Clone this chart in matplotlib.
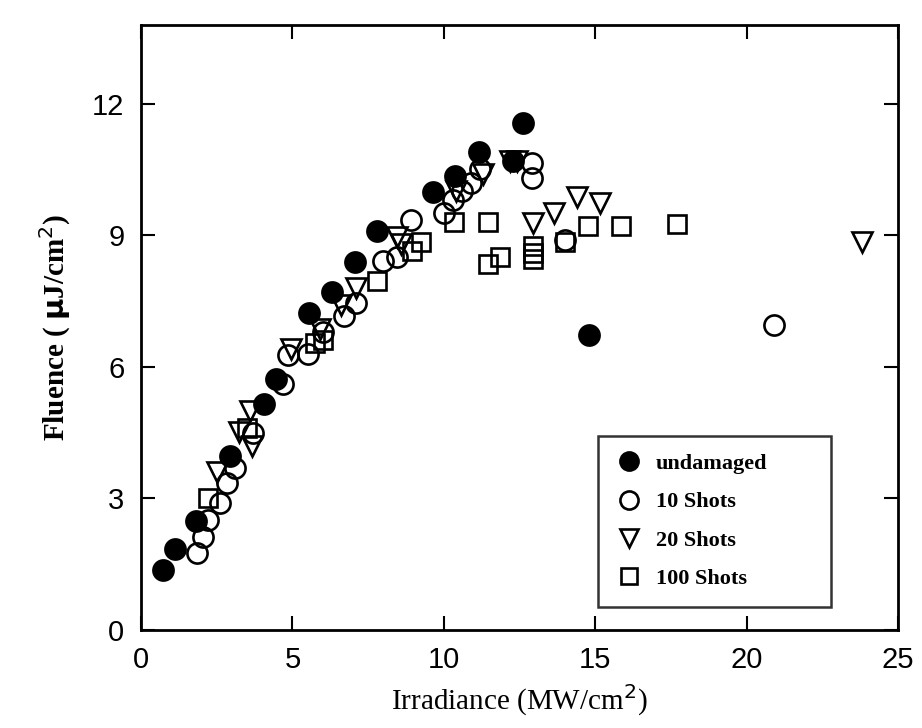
import matplotlib
matplotlib.use("Agg")
import matplotlib.pyplot as plt
from matplotlib import font_manager

# fluence vs irradiance, four damage classes
undamaged_x = [0.73, 1.12, 1.8, 2.95, 4.05, 4.45, 5.55, 6.3, 7.05, 7.8, 9.65, 10.38, 11.15, 12.3, 12.6, 14.8]
undamaged_y = [1.37, 1.85, 2.48, 3.96, 5.15, 5.72, 7.22, 7.7, 8.38, 9.1, 9.98, 10.36, 10.9, 10.7, 11.55, 6.72]

shots10_x = [1.85, 2.05, 2.2, 2.6, 2.84, 3.1, 3.7, 4.7, 4.85, 5.5, 6.0, 6.7, 7.1, 8.0, 8.45,
             8.9, 10.0, 10.3, 10.6, 10.9, 11.2, 12.9, 12.9, 14.0, 20.9]
shots10_y = [1.75, 2.12, 2.5, 2.9, 3.35, 3.7, 4.49, 5.6, 6.26, 6.3, 6.8, 7.15, 7.45, 8.4, 8.5,
             9.35, 9.5, 9.8, 10.0, 10.2, 10.5, 10.65, 10.3, 8.9, 6.95]

shots20_x = [2.5, 3.25, 3.65, 3.6, 4.95, 5.9, 6.6, 7.1, 8.45, 8.6, 10.4, 11.3, 12.2, 12.4,
             12.95, 13.65, 14.4, 15.15, 23.8]
shots20_y = [3.6, 4.5, 4.2, 5.0, 6.4, 6.85, 7.4, 7.8, 8.95, 8.8, 10.0, 10.4, 10.7, 10.7,
             9.27, 9.5, 9.86, 9.73, 8.84]

shots100_x = [2.2, 3.5, 5.75, 6.0, 7.8, 8.95, 9.25, 10.35, 11.45, 11.45, 11.85, 12.95, 12.95,
              12.95, 14.0, 14.75, 15.85, 17.7]
shots100_y = [3.0, 4.6, 6.55, 6.6, 7.95, 8.65, 8.85, 9.3, 9.3, 8.35, 8.5, 8.75, 8.6,
              8.45, 8.85, 9.2, 9.2, 9.25]

x_ticks = [0, 5, 10, 15, 20, 25]
y_ticks = [0, 3, 6, 9, 12]

names = {f.name for f in font_manager.fontManager.ttflist}
tick_font = "Liberation Sans Narrow" if "Liberation Sans Narrow" in names else "Liberation Sans"

fig = plt.figure(figsize=(9.22, 7.28), dpi=100)
ax = fig.add_axes([0.153, 0.135, 0.821, 0.831])

ms = 14.5
mew = 1.9
ax.plot(undamaged_x, undamaged_y, 'o', ms=ms, color='black', mec='black', mew=mew,
        label='undamaged', zorder=4)
ax.plot(shots10_x, shots10_y, 'o', ms=ms, mfc='none', mec='black', mew=mew,
        label='10 Shots', zorder=3)
ax.plot(shots20_x, shots20_y, 'v', ms=ms, mfc='none', mec='black', mew=mew,
        label='20 Shots', zorder=3)
ax.plot(shots100_x, shots100_y, 's', ms=ms - 2, mfc='none', mec='black', mew=mew,
        label='100 Shots', zorder=3)

ax.set_xlim(0, 25)
ax.set_ylim(0, 13.8)
ax.set_xticks(x_ticks)
ax.set_yticks(y_ticks)
ax.tick_params(direction='in', length=10, width=1.5, top=True, right=True,
               labelsize=21, pad=12)
for lab in ax.get_xticklabels() + ax.get_yticklabels():
    lab.set_family(tick_font)
for s in ax.spines.values():
    s.set_linewidth(2)

ax.set_xlabel('Irradiance (MW/cm$^2$)', family='Liberation Serif', fontsize=21, labelpad=6)
ax.set_ylabel(r'Fluence ( $\mathbf{\mu}$J/cm$^2$)', family='Liberation Serif',
              fontsize=21, fontweight='bold', labelpad=14)

leg = ax.legend(loc='lower left', bbox_to_anchor=(0.604, 0.038, 0.307, 0.288),
                mode='expand', borderaxespad=0, frameon=True, fancybox=False,
                borderpad=0.8, labelspacing=0.8, handletextpad=0.6, handlelength=1.2,
                prop={'family': 'Liberation Serif', 'weight': 'bold', 'size': 16},
                markerscale=0.9)
leg.get_frame().set_edgecolor('black')
leg.get_frame().set_linewidth(1.8)

fig.savefig('out.png', dpi=100)
